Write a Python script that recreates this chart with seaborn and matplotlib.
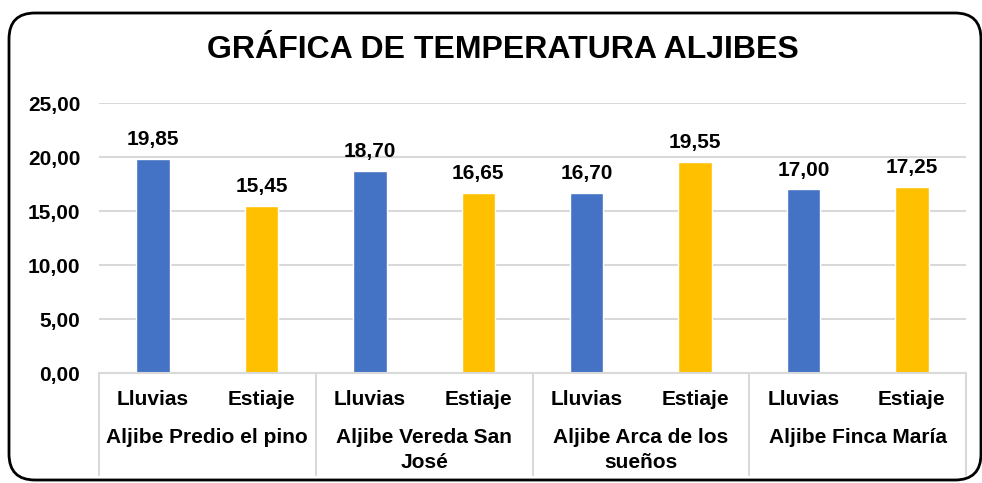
import pandas as pd
import matplotlib
matplotlib.use('Agg')
import matplotlib.pyplot as plt
import matplotlib.transforms as mtransforms
from matplotlib.patches import FancyBboxPatch
from matplotlib.lines import Line2D
import seaborn as sns

# data
groups = ['Aljibe Predio el pino', 'Aljibe Vereda San\nJosé',
          'Aljibe Arca de los\nsueños', 'Aljibe Finca María']
seasons = ['Lluvias', 'Estiaje']
lluvias = [19.85, 18.70, 16.70, 17.00]
estiaje = [15.45, 16.65, 19.55, 17.25]
yticks = [0, 5, 10, 15, 20, 25]

rows = []
for g, l, e in zip(groups, lluvias, estiaje):
    rows.append({'key': g + '|Lluvias', 'Grupo': g, 'Temporada': 'Lluvias', 'Temp': l})
    rows.append({'key': g + '|Estiaje', 'Grupo': g, 'Temporada': 'Estiaje', 'Temp': e})
df = pd.DataFrame(rows)

sns.set_theme(style='white')
plt.rcParams['font.family'] = ['Liberation Sans', 'DejaVu Sans']
plt.rcParams['font.weight'] = 'bold'
plt.rcParams['text.color'] = 'black'
plt.rcParams['xtick.color'] = 'black'
plt.rcParams['ytick.color'] = 'black'

fig = plt.figure(figsize=(9.82, 4.83), dpi=100)
ax = fig.add_axes([99 / 982, 110 / 483, 867 / 982, 270 / 483])

sns.barplot(data=df, x='key', y='Temp', hue='Temporada', dodge=False,
            palette={'Lluvias': '#4472C4', 'Estiaje': '#FFC000'},
            width=0.31, saturation=1, legend=False, ax=ax)

ax.set_ylim(0, 25)
ax.set_xlim(-0.5, len(df) - 0.5)
ax.set_yticks(yticks)
ax.set_yticklabels([f'{v:.2f}'.replace('.', ',') for v in yticks],
                   fontsize=15, fontweight='bold')
ax.tick_params(axis='y', length=0, pad=13.5)
ax.tick_params(axis='x', length=0, pad=12)
ax.set_xticks(range(len(df)))
ax.set_xticklabels(df['Temporada'], fontsize=15, fontweight='bold')
ax.set_xlabel('')
ax.set_ylabel('')
ax.yaxis.grid(True, color='#D9D9D9', lw=1.5)
ax.set_axisbelow(True)
for s in ['top', 'right', 'left']:
    ax.spines[s].set_visible(False)
ax.spines['bottom'].set_color('#D9D9D9')
ax.spines['bottom'].set_linewidth(1.5)

# data labels
for p in ax.patches:
    h = p.get_height()
    if h <= 0:
        continue
    ax.annotate(f'{h:.2f}'.replace('.', ','),
                (p.get_x() + p.get_width() / 2, h),
                xytext=(0, 7), textcoords='offset points',
                ha='center', va='bottom', fontsize=15, fontweight='bold')

# group labels and separators
trans = mtransforms.blended_transform_factory(ax.transData, ax.transAxes)
for i, g in enumerate(groups):
    ax.text(2 * i + 0.5, -0.205, g, transform=trans, ha='center', va='top',
            fontsize=15, fontweight='bold', linespacing=1.35)
for i in range(len(groups) + 1):
    x = 2 * i - 0.5
    ax.add_line(Line2D([x, x], [0, -0.378], transform=trans, color='#D9D9D9',
                       lw=1.5, clip_on=False))

fig.text(503 / 982, 1 - 50 / 483, 'GRÁFICA DE TEMPERATURA ALJIBES',
         ha='center', va='center', fontsize=23, fontweight='bold')

border = FancyBboxPatch((9, 3), 972, 467,
                        boxstyle='round,pad=0,rounding_size=26',
                        transform=mtransforms.IdentityTransform(), fill=False,
                        edgecolor='black', lw=2)
fig.patches.append(border)

fig.savefig('out.png', dpi=100)
